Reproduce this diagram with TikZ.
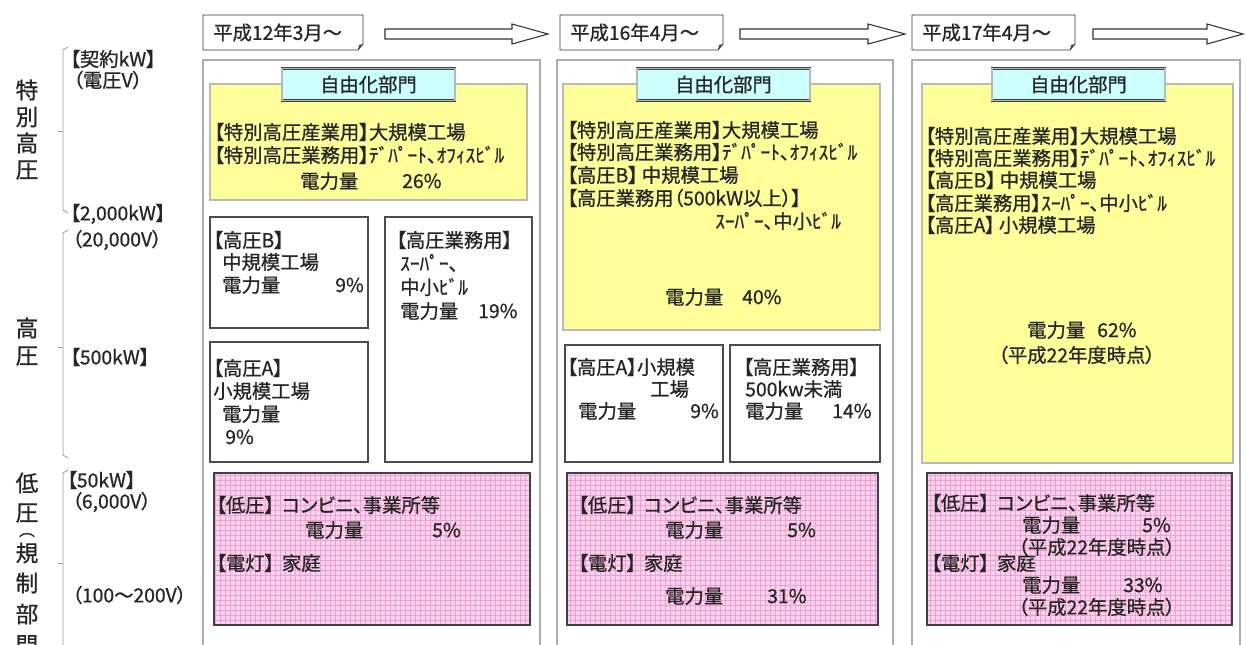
\documentclass[tikz,border=0pt]{standalone}
\usepackage{fontspec}
\newfontfamily\jp[RawFeature={+palt;embolden=0.8}]{Noto Sans CJK JP}
\definecolor{yel}{RGB}{255,255,153}
\definecolor{cyanbox}{RGB}{204,255,255}
\definecolor{pinkbg}{RGB}{255,210,238}
\definecolor{pinkgrid}{RGB}{232,160,212}
\newcommand\pinkrect[4]{%
  \fill[pinkbg] (#1,#2) rectangle (#3,#4);
  \begin{scope}
    \clip (#1,#2) rectangle (#3,#4);
    \draw[pinkgrid, line width=0.25pt, step=3.75pt] (#1,#4) grid (#3,#2);
  \end{scope}
  \draw[pinkbox] (#1,#2) rectangle (#3,#4);}
\begin{document}
\begin{tikzpicture}[x=0.75pt,y=-0.75pt,
  txt/.style={font=\jp\fontsize{14.5}{17}\selectfont, anchor=west, inner sep=0pt, text=black!85},
  vch/.style={font=\jp\fontsize{17}{20}\selectfont, inner sep=0pt, text=black!85},
  vpar/.style={font=\jp\fontsize{12}{14}\selectfont, inner sep=0pt, text=black!85},
  colframe/.style={draw=gray!65, line width=1.3pt},
  datebox/.style={draw=black!80, line width=0.7pt, fill=white},
  blockarrow/.style={draw=black!80, line width=0.8pt, fill=white, line join=miter},
  yelbox/.style={fill=yel, draw=black!75, line width=0.6pt, double=gray!55, double distance=0.9pt},
  tabbox/.style={fill=cyanbox, draw=black!75, line width=0.6pt, double=gray!55, double distance=0.9pt,
    minimum width=129.75pt, minimum height=24.5pt, inner sep=0pt,
    font=\jp\fontsize{14.5}{17}\selectfont, text=black!85},
  whitebox/.style={draw=black!70, line width=0.8pt, fill=white},
  pinkbox/.style={draw=black!75, line width=0.9pt},
  bracket/.style={draw=gray!80, line width=0.6pt}]
\useasboundingbox (0,0) rectangle (1246,644);
\fill[white] (0,0) rectangle (1246,644);

% ---------- left axis ----------
\foreach \c/\y [count=\i] in {特/90,別/117,高/143,圧/170}
  \node[vch] (va\i) at (27,\y) {\c};
\foreach \c/\y [count=\i] in {高/328,圧/356}
  \node[vch] (vb\i) at (27,\y) {\c};
\foreach \c/\y [count=\i] in {低/483,圧/513,規/553,制/583,部/614,門/645}
  \node[vch] (vc\i) at (27,\y) {\c};
\node[vpar] (vcp) at (27,535) {︵};

\draw[bracket] (68,47) -- (63,50) -- (63,210) -- (68,213);
\draw[bracket] (63,131) -- (58,131);
\draw[bracket] (68,230) -- (63,233) -- (63,455) -- (68,458);
\draw[bracket] (63,347) -- (58,347);
\draw[bracket] (68,470) -- (63,473) -- (63,660);
\draw[bracket] (63,563) -- (58,563);

\node[txt] (l1) at (70,59) {【契約kW】};
\node[txt] (l2) at (73,80) {（電圧V）};
\node[txt] (l3) at (70,214) {【2,000kW】};
\node[txt] (l4) at (72,240) {（20,000V）};
\node[txt] (l5) at (70,357) {【500kW】};
\node[txt] (l6) at (67,480) {【50kW】};
\node[txt] (l7) at (72,502) {（6,000V）};
\node[txt] (l8) at (72,595) {（100～200V）};

% ---------- date boxes and arrows ----------
\foreach \xa/\xb/\n/\t in {203/363/1/平成12年3月～, 560/723/2/平成16年4月～, 912/1075/3/平成17年4月～}{
  \draw[datebox] (\xa,15) -- (\xb,15) -- (\xb,44) -- (\xb-5,50) -- (\xa,50) -- cycle;
  \fill[black!70] (\xb,44) -- (\xb-5,50) -- (\xb-4,45) -- cycle;
  \node[txt] (d\n) at (\xa+10,32.5) {\t};
}
\draw[blockarrow] (385,29) -- (512,29) -- (512,24) -- (548,34) -- (512,44) -- (512,39) -- (385,39) -- cycle;
\draw[blockarrow] (740,29) -- (868,29) -- (868,24) -- (905,34) -- (868,44) -- (868,39) -- (740,39) -- cycle;
\draw[blockarrow] (1093,29) -- (1207,29) -- (1207,24) -- (1243,34) -- (1207,44) -- (1207,39) -- (1093,39) -- cycle;

% ---------- column frames ----------
\draw[colframe] (203,680) -- (203,60) -- (540,60) -- (540,680);
\draw[colframe] (557,680) -- (557,60) -- (893,60) -- (893,680);
\draw[colframe] (912,680) -- (912,60) -- (1240,60) -- (1240,680);

% ---------- column 1 ----------
\draw[yelbox] (210,84) rectangle (527,200);
\node[tabbox] (t1) at (368.5,84.5) {自由化部門};
\node[txt] (c1a) at (214,132) {【特別高圧産業用】大規模工場};
\node[txt] (c1b) at (214,155) {【特別高圧業務用】ﾃﾞﾊﾟｰﾄ、ｵﾌｨｽﾋﾞﾙ};
\node[txt] (c1c) at (300,181) {電力量};
\node[txt] (c1d) at (402,181) {26\%};

\draw[whitebox] (210,217) rectangle (368,328);
\node[txt] (b1a) at (213,240) {【高圧B】};
\node[txt] (b1b) at (222,262) {中規模工場};
\node[txt] (b1c) at (222,285) {電力量};
\node[txt] (b1d) at (335,285) {9\%};

\draw[whitebox] (385,217) rectangle (532,462);
\node[txt] (s1a) at (396,240) {【高圧業務用】};
\node[txt] (s1b) at (400,263) {ｽｰﾊﾟｰ、};
\node[txt] (s1c) at (400,287) {中小ﾋﾞﾙ};
\node[txt] (s1d) at (400,311) {電力量};
\node[txt] (s1e) at (478,311) {19\%};

\draw[whitebox] (210,342) rectangle (368,462);
\node[txt] (a1a) at (213,368) {【高圧A】};
\node[txt] (a1b) at (213,391) {小規模工場};
\node[txt] (a1c) at (222,414) {電力量};
\node[txt] (a1d) at (225,437) {9\%};

\pinkrect{214}{473}{530}{625}
\node[txt] (p1a) at (216,505) {【低圧】\hspace{0.4em}コンビニ、事業所等};
\node[txt] (p1b) at (305,530) {電力量};
\node[txt] (p1c) at (432,530) {5\%};
\node[txt] (p1d) at (216,563) {【電灯】\hspace{0.4em}家庭};

% ---------- column 2 ----------
\draw[yelbox] (563,84) rectangle (880,330);
\node[tabbox] (t2) at (723.5,84.5) {自由化部門};
\node[txt] (c2a) at (567,130) {【特別高圧産業用】大規模工場};
\node[txt] (c2b) at (567,152) {【特別高圧業務用】ﾃﾞﾊﾟｰﾄ、ｵﾌｨｽﾋﾞﾙ};
\node[txt] (c2c) at (567,175) {【高圧B】\hspace{0.2em}中規模工場};
\node[txt] (c2d) at (567,198) {【高圧業務用（500kW以上）】};
\node[txt] (c2e) at (715,221) {ｽｰﾊﾟｰ、中小ﾋﾞﾙ};
\node[txt] (c2f) at (665,297) {電力量};
\node[txt] (c2g) at (742,297) {40\%};

\draw[whitebox] (565,345) rectangle (723,462);
\node[txt] (a2a) at (567,367) {【高圧A】小規模};
\node[txt] (a2b) at (650,389) {工場};
\node[txt] (a2c) at (578,411) {電力量};
\node[txt] (a2d) at (690,411) {9\%};

\draw[whitebox] (730,345) rectangle (880,462);
\node[txt] (s2a) at (743,367) {【高圧業務用】};
\node[txt] (s2b) at (745,389) {500kw未満};
\node[txt] (s2c) at (745,411) {電力量};
\node[txt] (s2d) at (832,411) {14\%};

\pinkrect{567}{473}{878}{625}
\node[txt] (p2a) at (578,505) {【低圧】\hspace{0.4em}コンビニ、事業所等};
\node[txt] (p2b) at (665,530) {電力量};
\node[txt] (p2c) at (787,530) {5\%};
\node[txt] (p2d) at (578,563) {【電灯】\hspace{0.4em}家庭};
\node[txt] (p2e) at (665,596) {電力量};
\node[txt] (p2f) at (767,596) {31\%};

% ---------- column 3 ----------
\draw[yelbox] (922,84) rectangle (1233,463);
\node[tabbox] (t3) at (1078.5,84.5) {自由化部門};
\node[txt] (c3a) at (925,136) {【特別高圧産業用】大規模工場};
\node[txt] (c3b) at (925,158) {【特別高圧業務用】ﾃﾞﾊﾟｰﾄ、ｵﾌｨｽﾋﾞﾙ};
\node[txt] (c3c) at (925,180) {【高圧B】\hspace{0.2em}中規模工場};
\node[txt] (c3d) at (925,203) {【高圧業務用】ｽｰﾊﾟｰ、中小ﾋﾞﾙ};
\node[txt] (c3e) at (925,225) {【高圧A】\hspace{0.2em}小規模工場};
\node[txt] (c3f) at (1027,330) {電力量};
\node[txt] (c3g) at (1097,330) {62\%};
\node[txt] (c3h) at (998,355) {（平成22年度時点）};

\pinkrect{927}{473}{1232}{625}
\node[txt] (p3a) at (931,503) {【低圧】\hspace{0.4em}コンビニ、事業所等};
\node[txt] (p3b) at (1022,525) {電力量};
\node[txt] (p3c) at (1142,525) {5\%};
\node[txt] (p3d) at (1018,547) {（平成22年度時点）};
\node[txt] (p3e) at (931,563) {【電灯】\hspace{0.4em}家庭};
\node[txt] (p3f) at (1022,585) {電力量};
\node[txt] (p3g) at (1123,585) {33\%};
\node[txt] (p3h) at (1018,607) {（平成22年度時点）};
\end{tikzpicture}
\end{document}
